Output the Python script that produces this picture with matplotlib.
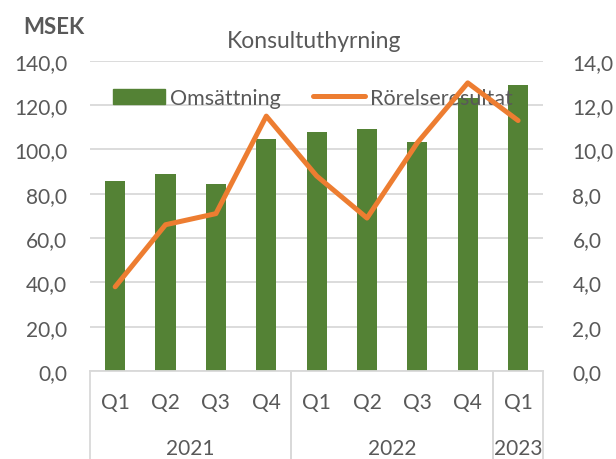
import matplotlib
matplotlib.use("Agg")
import matplotlib.pyplot as plt
from matplotlib.patches import Patch
from matplotlib.lines import Line2D
import matplotlib.transforms as mtransforms

plt.rcParams['font.family'] = ['Lato', 'DejaVu Sans']

# data
quarters = ['Q1', 'Q2', 'Q3', 'Q4', 'Q1', 'Q2', 'Q3', 'Q4', 'Q1']
years = ['2021', '2022', '2023']
year_spans = [(0, 3), (4, 7), (8, 8)]
omsattning = [85.5, 88.7, 84.5, 104.5, 107.8, 109.0, 103.4, 123.0, 129.2]
rorelseresultat = [3.8, 6.6, 7.1, 11.5, 8.8, 6.9, 10.3, 13.0, 11.3]

green = '#548235'
orange = '#ED7D31'
text_c = '#595959'
grid_c = '#D9D9D9'
fs = 15

fig = plt.figure(figsize=(6.16, 4.60), dpi=100)
ax = fig.add_axes([90 / 616, 1 - 372 / 460, (543.3 - 90) / 616, (372 - 61.7) / 460])
ax2 = ax.twinx()

x = list(range(len(quarters)))
ax.bar(x, omsattning, width=0.4, color=green, zorder=2)
ax2.plot(x, rorelseresultat, color=orange, lw=3.6, solid_capstyle='round',
         solid_joinstyle='round', zorder=3)

ax.set_xlim(-0.5, len(quarters) - 0.5)
ax.set_ylim(0, 140)
ax2.set_ylim(0, 14)
ax.set_yticks(range(0, 141, 20))
ax2.set_yticks(range(0, 15, 2))
ax.set_yticklabels([f'{v:.1f}'.replace('.', ',') for v in range(0, 141, 20)])
ax2.set_yticklabels([f'{v:.1f}'.replace('.', ',') for v in range(0, 15, 2)])
ax.tick_params(axis='y', length=0, pad=16.5, labelsize=fs, labelcolor=text_c)
ax2.tick_params(axis='y', length=0, pad=21, labelsize=fs, labelcolor=text_c)

ax.yaxis.grid(True, color=grid_c, lw=1.3, zorder=0)
ax.set_axisbelow(True)
for a in (ax, ax2):
    for s in a.spines.values():
        s.set_visible(False)
ax.spines['bottom'].set_visible(True)
ax.spines['bottom'].set_color(grid_c)
ax.spines['bottom'].set_linewidth(1.3)

# category axis: quarters, years and separators
ax.set_xticks([])
tr = mtransforms.blended_transform_factory(ax.transData, ax.transAxes)
h = 372 - 61.7
for xi, q in zip(x, quarters):
    ax.text(xi, -31 / h, q, transform=tr, ha='center', va='center',
            fontsize=fs, color=text_c)
for (a, b), yr in zip(year_spans, years):
    ax.text((a + b) / 2, -77 / h, yr, transform=tr, ha='center', va='center',
            fontsize=fs, color=text_c)
    for edge in (a - 0.5, b + 0.5):
        ax.plot([edge, edge], [0, -88 / h], transform=tr, color=grid_c,
                lw=1.3, clip_on=False)

fig.text(314 / 616, 1 - 42 / 460, 'Konsultuthyrning', ha='center', va='center',
         fontsize=16.5, color=text_c)
fig.text(23 / 616, 1 - 28 / 460, 'MSEK', ha='left', va='center',
         fontsize=16, fontweight='bold', color=text_c)

handles = [Patch(color=green),
           Line2D([], [], color=orange, lw=3.6, solid_capstyle='round')]
leg = ax.legend(handles, ['Omsättning', 'Rörelseresultat'], ncol=2, frameon=False,
                loc='center left', bbox_to_anchor=(113 / 616, 1 - 99 / 460),
                bbox_transform=fig.transFigure, fontsize=15.5, handlelength=2.42,
                handletextpad=0.22, columnspacing=1.5, borderpad=0, borderaxespad=0,
                labelcolor=text_c)
leg.set_zorder(5)

fig.savefig('out.png', dpi=100)
